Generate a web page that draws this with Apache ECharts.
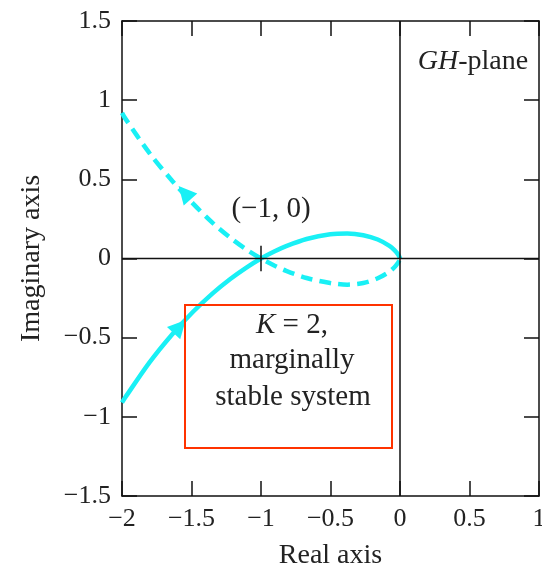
<!DOCTYPE html>
<html>
<head>
<meta charset="utf-8">
<script src="https://cdn.jsdelivr.net/npm/echarts@6/dist/echarts.min.js"></script>
<style>
html,body{margin:0;padding:0;background:#fff;overflow:hidden;}
#c{width:542px;height:571px;}
</style>
</head>
<body>
<div id="c"></div>
<script>
// Tick values
var xTicks = [-2, -1.5, -1, -0.5, 0, 0.5, 1];
var yTicks = [-1.5, -1, -0.5, 0, 0.5, 1, 1.5];

// Solid branch (positive frequencies)
var solidRe = [-2.0, -1.977, -1.802, -1.638, -1.487, -1.348, -1.221, -1.105, -1.0, -0.905, -0.819, -0.672, -0.502, -0.379, -0.264, -0.16, -0.076, -0.04, -0.014, -0.003, 0];
var solidIm = [-0.91, -0.878, -0.656, -0.478, -0.335, -0.220, -0.129, -0.057, 0, 0.044, 0.078, 0.123, 0.153, 0.158, 0.147, 0.12, 0.080, 0.053, 0.026, 0.0085, 0];

// Dashed branch (negative frequencies)
var dashRe = [-2.0, -1.977, -1.802, -1.638, -1.487, -1.348, -1.221, -1.105, -1.0, -0.905, -0.819, -0.672, -0.502, -0.379, -0.264, -0.16, -0.076, -0.04, -0.014, -0.003, 0];
var dashIm = [0.92, 0.885, 0.665, 0.49, 0.345, 0.225, 0.131, 0.057, 0, -0.044, -0.078, -0.123, -0.155, -0.165, -0.155, -0.125, -0.083, -0.055, -0.027, -0.0085, 0];

// Direction arrows: tail point -> head point (head carries the triangle)
var solidArrowTail = [-1.595, -0.4395];
var solidArrowHead = [-1.585, -0.43];
var dashArrowTail = [-1.54, 0.405];
var dashArrowHead = [-1.55, 0.415];

// Critical point marker
var critRe = -1, critIm = 0;

function zip(a, b) { return a.map(function (v, i) { return [v, b[i]]; }); }
function fmt(v) { return String(v).replace('-', '\u2212'); }

var FONT = 'Liberation Serif';
var TXT = '#222';
var CYAN = '#19F0F5';

var chart = echarts.init(document.getElementById('c'), null, {renderer: 'canvas', width: 542, height: 571});

var axisCommon = {
  type: 'value',
  axisLine: {show: true, onZero: false, lineStyle: {color: '#111', width: 1.5}},
  axisTick: {show: true, inside: true, length: 15, lineStyle: {color: '#111', width: 1.5}},
  splitLine: {show: false}
};

function arrowMark(tail, head) {
  return {
    silent: true, animation: false,
    symbol: ['none', 'triangle'], symbolSize: [18, 18],
    label: {show: false},
    lineStyle: {color: CYAN, width: 2, type: 'solid'},
    data: [[{coord: tail}, {coord: head}]]
  };
}

var option = {
  animation: false,
  backgroundColor: '#fff',
  grid: {left: 122, top: 21, width: 417, height: 475, containLabel: false, outerBoundsMode: 'none'},
  xAxis: [
    Object.assign({}, axisCommon, {
      position: 'bottom', min: xTicks[0], max: xTicks[xTicks.length - 1], interval: 0.5,
      axisLabel: {formatter: fmt, fontFamily: FONT, fontSize: 26, color: TXT, margin: 10},
      name: 'Real axis', nameLocation: 'middle', nameGap: 46,
      nameTextStyle: {fontFamily: FONT, fontSize: 28, color: TXT}
    }),
    Object.assign({}, axisCommon, {
      position: 'top', min: xTicks[0], max: xTicks[xTicks.length - 1], interval: 0.5,
      axisLabel: {show: false}
    })
  ],
  yAxis: [
    Object.assign({}, axisCommon, {
      position: 'left', min: yTicks[0], max: yTicks[yTicks.length - 1], interval: 0.5,
      axisLabel: {formatter: fmt, fontFamily: FONT, fontSize: 26, color: TXT, margin: 11},
      name: 'Imaginary axis', nameLocation: 'middle', nameGap: 76, nameRotate: 90,
      nameTextStyle: {fontFamily: FONT, fontSize: 28, color: TXT}
    }),
    Object.assign({}, axisCommon, {
      position: 'right', min: yTicks[0], max: yTicks[yTicks.length - 1], interval: 0.5,
      axisLabel: {show: false}
    })
  ],
  series: [
    {
      type: 'line', data: zip(solidRe, solidIm), smooth: 0.3, showSymbol: false, silent: true,
      lineStyle: {color: CYAN, width: 4.5}, z: 2,
      markLine: arrowMark(solidArrowTail, solidArrowHead)
    },
    {
      type: 'line', data: zip(dashRe, dashIm), smooth: 0.3, showSymbol: false, silent: true,
      lineStyle: {color: CYAN, width: 4.5, type: [12, 7], cap: 'butt'}, z: 2,
      markLine: arrowMark(dashArrowTail, dashArrowHead)
    },
    {
      type: 'line', data: [[xTicks[0], 0], [xTicks[xTicks.length - 1], 0]], showSymbol: false, silent: true,
      lineStyle: {color: '#111', width: 1.5}, z: 4
    },
    {
      type: 'line', data: [[0, yTicks[0]], [0, yTicks[yTicks.length - 1]]], showSymbol: false, silent: true,
      lineStyle: {color: '#111', width: 1.5}, z: 4
    },
    {
      type: 'line', data: [[critRe, critIm - 0.08], [critRe, critIm + 0.08]], showSymbol: false, silent: true,
      lineStyle: {color: '#111', width: 1.5}, z: 4
    }
  ],
  graphic: [
    {
      type: 'text', x: 473, y: 62, z: 10,
      style: {
        rich: {
          i: {fontFamily: FONT, fontSize: 28, fontStyle: 'italic', fill: TXT},
          n: {fontFamily: FONT, fontSize: 28, fill: TXT}
        },
        text: '{i|GH}{n|-plane}', align: 'center', verticalAlign: 'middle'
      }
    },
    {
      type: 'text', x: 271, y: 209, z: 10,
      style: {text: '(\u22121, 0)', fontFamily: FONT, fontSize: 29, fill: TXT, align: 'center', verticalAlign: 'middle'}
    },
    {
      type: 'rect', z: 10,
      shape: {x: 185, y: 305, width: 207, height: 143},
      style: {fill: 'rgba(255,255,255,0)', stroke: '#FF3300', lineWidth: 2}
    },
    {
      type: 'text', z: 11, x: 292, y: 325,
      style: {
        rich: {
          i: {fontFamily: FONT, fontSize: 29, fontStyle: 'italic', fill: TXT},
          n: {fontFamily: FONT, fontSize: 29, fill: TXT}
        },
        text: '{i|K}{n| = 2,}', align: 'center', verticalAlign: 'middle'
      }
    },
    {
      type: 'text', z: 11, x: 292, y: 360,
      style: {text: 'marginally', fontFamily: FONT, fontSize: 29, fill: TXT, align: 'center', verticalAlign: 'middle'}
    },
    {
      type: 'text', z: 11, x: 293, y: 397,
      style: {text: 'stable system', fontFamily: FONT, fontSize: 29, fill: TXT, align: 'center', verticalAlign: 'middle'}
    }
  ]
};

chart.setOption(option);
</script>
</body>
</html>
